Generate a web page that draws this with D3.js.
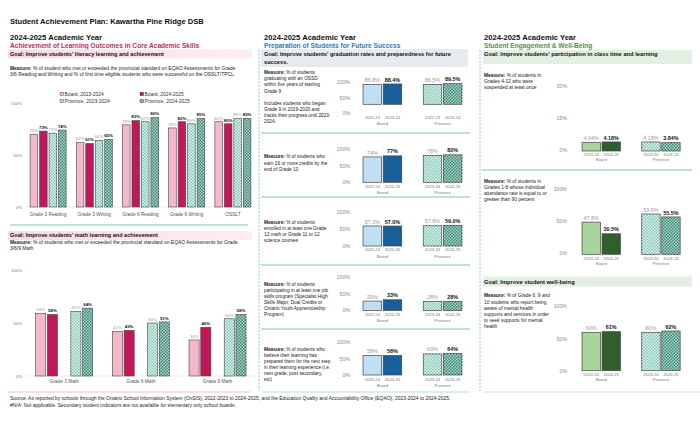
<!DOCTYPE html>
<html><head><meta charset="utf-8">
<script src="https://cdn.jsdelivr.net/npm/d3@7"></script>
<style>body{margin:0;background:#fff}svg{display:block;font-family:"Liberation Sans",Arial,sans-serif}</style>
</head><body><svg id="c" width="700" height="425"></svg>
<script>
// ---------- DATA ----------
const title = "Student Achievement Plan: Kawartha Pine Ridge DSB";
const yearHeader = "2024-2025 Academic Year";
const seriesKeys = ["Board, 2023-2024","Board, 2024-2025","Province, 2023-2024","Province, 2024-2025"];

const litCats = ["Grade 3 Reading","Grade 3 Writing","Grade 6 Reading","Grade 6 Writing","OSSLT"];
const litBoardPrev = [70,62,79,76,82];
const litBoardCurr = [73,61,83,82,80];
const litProvPrev  = [71,64,82,80,85];
const litProvCurr  = [74,65,86,85,85];

const mathCats = ["Grade 3 Math","Grade 6 Math","Grade 9 Math"];
const mathBoardPrev = [59,42,34];
const mathBoardCurr = [58,43,46];
const mathProvPrev  = [61,50,54];
const mathProvCurr  = [64,51,58];

const pctTicks = [0,50,100];
const groupNames = ["Board","Province"];

const midYears = [["2022-23","2023-24"],["2023-24","2024-25"],["2023-24","2024-25"],["2023-24","2024-25"],["2023-24","2024-25"]];
const midBoard = [[86.8,88.4],[74,77],[57.3,57.0],[29,33],[58,58]];
const midProv  = [[86.5,89.5],[78,80],[57.8,59.0],[28,28],[63,64]];
const midDecimals = [1,0,1,0,0];
const midMeasures = [
  ["Measure: % of students","graduating with an OSSD","within five years of starting","Grade 9","","Includes students who began","Grade 9 in 2019-2020 and","tracks their progress until 2023-","2024."],
  ["Measure: % of students who","earn 16 or more credits by the","end of Grade 10"],
  ["Measure: % of students","enrolled in at least one Grade","12 math or Grade 11 or 12","science courses"],
  ["Measure: % of students","participating in at least one job","skills program (Specialist High","Skills Major, Dual Credits or","Ontario Youth Apprenticeship","Program)"],
  ["Measure: % of students who","believe their learning has","prepared them for the next step","in their learning experience (i.e.","next grade, post secondary,","etc)"]
];

const rightYears = [["2023-24","2024-25"],["2023-24","2024-25"],["2023-24","2024-25"]];
const rightBoard = [[4.04,4.18],[47.8,30.5],[60,61]];
const rightProv  = [[4.18,3.84],[59.9,55.5],[60,62]];
const rightDecimals = [2,1,0];
const rightMax = [30,100,100];
const rightTicks = [[0,15,30],[0,50,100],[0,50,100]];
const rightMeasures = [
  ["Measure: % of students in","Grades 4-12 who were","suspended at least once"],
  ["Measure: % of students in","Grades 1-8 whose individual","attendance rate is equal to or","greater than 90 percent"],
  ["Measure: % of Grade 6, 9 and","10 students who report being","aware of mental health","supports and services in order","to seek supports for mental","health"]
];

const footer1 = "Source: As reported by schools through the Ontario School Information System (OnSIS), 2022-2023 to 2024-2025, and the Education Quality and Accountability Office (EQAO), 2023-2024 to 2024-2025.";
const footer2 = "#N/A: Not applicable. Secondary student indicators are not available for elementary only school boards.";

// ---------- DRAW ----------
const svg = d3.select("#c");
svg.append("rect").attr("width",700).attr("height",425).attr("fill","#fff");
const defs = svg.append("defs");
function pattern(id, base, dot){
  const p = defs.append("pattern").attr("id",id).attr("width",3).attr("height",3).attr("patternUnits","userSpaceOnUse");
  p.append("rect").attr("width",3).attr("height",3).attr("fill",base);
  p.append("rect").attr("width",1.5).attr("height",1.5).attr("fill",dot);
  p.append("rect").attr("x",1.5).attr("y",1.5).attr("width",1.5).attr("height",1.5).attr("fill",dot);
}
pattern("provL","#e6f5f1","#7cc6b5");
pattern("provD","#a9d8cc","#3f8574");
const lg = defs.append("linearGradient").attr("id","pinkG");
lg.append("stop").attr("offset","0").attr("stop-color","#f9d9e3");
lg.append("stop").attr("offset","1").attr("stop-color","#fdeef3");

const PINK_L="#f4b8cc", PINK_D="#c2185b", BLUE_L="#bfdff4", BLUE_D="#18609b", GREEN_L="#a9d59c", GREEN_D="#2f5f2f";
const STROKE="#444";

function txt(x,y,s,o={}){
  return svg.append("text").attr("x",x).attr("y",y).attr("dy","0.35em")
    .attr("font-size",o.size||5).attr("font-weight",o.weight||"normal")
    .attr("fill",o.fill||"#222").attr("text-anchor",o.anchor||"start").text(s);
}
function measure(x,y,lines,lh,size){
  lines.forEach((l,i)=>{
    const t = svg.append("text").attr("x",x).attr("y",y+i*lh).attr("dy","0.35em").attr("font-size",size).attr("fill","#222");
    if(i===0 && l.startsWith("Measure:")){
      t.append("tspan").attr("font-weight","bold").text("Measure:");
      t.append("tspan").text(l.slice(8));
    } else t.text(l);
  });
}

// Title
txt(10,21,title,{size:7.6,weight:"bold",fill:"#111"});

// ===== LEFT COLUMN =====
txt(10,37.5,yearHeader,{size:7.6,weight:"bold",fill:"#111"});
txt(10,46,"Achievement of Learning Outcomes in Core Academic Skills",{size:6.6,weight:"bold",fill:"#b5306a"});
svg.append("rect").attr("x",8).attr("y",49.3).attr("width",244).attr("height",9).attr("fill","url(#pinkG)");
txt(10,53.6,"Goal: Improve students' literacy learning and achievement",{size:5.55,weight:"bold",fill:"#111"});
measure(10,68.3,["Measure: % of student who met or exceeded the provincial standard on EQAO Assessments for Grade","3/6 Reading and Writing and % of first time eligible students who were successful on the OSSLT/TPCL."],6,4.95);

// legend
const legFill = [PINK_L,PINK_D,"url(#provL)","url(#provD)"];
const legPos = [[60,94],[140,94],[60,101],[140,101]];
seriesKeys.forEach((k,i)=>{
  svg.append("rect").attr("x",legPos[i][0]).attr("y",legPos[i][1]-1.8).attr("width",3.6).attr("height",3.6)
    .attr("fill",legFill[i]).attr("stroke",STROKE).attr("stroke-width",0.4);
  txt(legPos[i][0]+4.5,legPos[i][1],k,{size:4.9,fill:"#333"});
});

function groupedChart(cats, series, x0, x1, y, labelY, axisX){
  const g = svg.append("g");
  g.append("line").attr("x1",x0.range()[0]).attr("x2",x0.range()[1]).attr("y1",y(0)).attr("y2",y(0)).attr("stroke","#e2e2e2").attr("stroke-width",0.6);
  const ax = svg.append("g").attr("transform",`translate(${axisX},0)`)
    .call(d3.axisLeft(y).tickValues(pctTicks).tickFormat(d=>d+"%").tickSize(0).tickPadding(0));
  ax.select(".domain").remove();
  ax.selectAll("text").attr("font-size",4.2).attr("fill","#777").attr("font-family","Liberation Sans, Arial, sans-serif");
  cats.forEach((c,ci)=>{
    series.forEach(s=>{
      const v = s.values[ci];
      const bx = x0(c)+x1(s.key);
      g.append("rect").attr("x",bx).attr("y",y(v)).attr("width",x1.bandwidth()).attr("height",y(0)-y(v))
        .attr("fill",s.fill).attr("stroke",STROKE).attr("stroke-width",0.6);
      g.append("text").attr("x",bx+x1.bandwidth()/2).attr("y",y(v)-2.2).attr("text-anchor","middle")
        .attr("font-size",4.4).attr("font-weight",s.bold?"bold":"normal").attr("fill",s.bold?"#111":"#999").text(v+"%");
    });
    g.append("text").attr("x",x0(c)+x0.bandwidth()/2).attr("y",labelY).attr("dy","0.35em").attr("text-anchor","middle")
      .attr("font-size",4.8).attr("fill","#555").text(c);
  });
}

// literacy chart
{
  const x0 = d3.scaleBand().domain(litCats).range([25,256]).paddingInner(0.22).paddingOuter(0.11);
  const x1 = d3.scaleBand().domain(seriesKeys).range([0,x0.bandwidth()]).paddingInner(0.2);
  const y = d3.scaleLinear().domain([0,100]).range([207,103]);
  groupedChart(litCats,[
    {key:seriesKeys[0],values:litBoardPrev,fill:PINK_L,bold:false},
    {key:seriesKeys[1],values:litBoardCurr,fill:PINK_D,bold:true},
    {key:seriesKeys[2],values:litProvPrev,fill:"url(#provL)",bold:false},
    {key:seriesKeys[3],values:litProvCurr,fill:"url(#provD)",bold:true}
  ],x0,x1,y,214,22);
}
svg.append("line").attr("x1",10).attr("x2",248).attr("y1",225).attr("y2",225).attr("stroke","#a6d8cc").attr("stroke-width",1.4);
svg.append("rect").attr("x",8).attr("y",231).attr("width",244).attr("height",9).attr("fill","url(#pinkG)");
txt(10,235.5,"Goal: Improve students' math learning and achievement",{size:5.55,weight:"bold",fill:"#111"});
measure(10,242,["Measure: % of students who met or exceeded the provincial standard on EQAO Assessments for Grade","3/6/9 Math"],6.3,4.95);

// math chart
{
  const slots = ["b0","b1","gap","p0","p1"];
  const x0 = d3.scaleBand().domain(mathCats).range([25.7,256]).paddingInner(0.257).paddingOuter(0.13);
  const x1 = d3.scaleBand().domain(slots).range([0,x0.bandwidth()]).paddingInner(0.14);
  const y = d3.scaleLinear().domain([0,100]).range([376,270]);
  groupedChart(mathCats,[
    {key:"b0",values:mathBoardPrev,fill:PINK_L,bold:false},
    {key:"b1",values:mathBoardCurr,fill:PINK_D,bold:true},
    {key:"p0",values:mathProvPrev,fill:"url(#provL)",bold:false},
    {key:"p1",values:mathProvCurr,fill:"url(#provD)",bold:true}
  ],x0,x1,y,381.7,22);
}

// ===== small two-group charts =====
function pairChart(o){
  const xg = d3.scaleBand().domain(groupNames).range(o.xRange).paddingInner(0.357).paddingOuter(0.18);
  const xs = d3.scaleBand().domain([0,1]).range([0,xg.bandwidth()]).paddingInner(0.08);
  const ya = d3.scaleLinear().domain([0,o.max]).range([o.aBot,o.aTop]);
  const yb = d3.scaleLinear().domain([0,o.max]).range([o.bBot,o.bTop]);
  const ax = svg.append("g").attr("transform",`translate(${o.axisX},0)`)
    .call(d3.axisLeft(ya).tickValues(o.ticks).tickFormat(d=>d+"%").tickSize(0).tickPadding(0));
  ax.select(".domain").remove();
  ax.selectAll("text").attr("font-size",5.2).attr("fill","#888").attr("font-family","Liberation Sans, Arial, sans-serif");
  const fills = [[o.cL,o.cD],["url(#provL)","url(#provD)"]];
  [o.board,o.prov].forEach((vals,gi)=>{
    const gname = groupNames[gi];
    vals.forEach((v,i)=>{
      const bx = xg(gname)+xs(i);
      svg.append("rect").attr("x",bx).attr("y",yb(v)).attr("width",xs.bandwidth()).attr("height",yb(0)-yb(v))
        .attr("fill",fills[gi][i]).attr("stroke",STROKE).attr("stroke-width",0.7);
      svg.append("text").attr("x",bx+xs.bandwidth()/2).attr("y",yb(v)-2.4).attr("text-anchor","middle")
        .attr("font-size",5.4).attr("font-weight",i?"bold":"normal").attr("fill",i?"#111":"#999")
        .text(v.toFixed(o.dec)+"%");
      svg.append("text").attr("x",bx+xs.bandwidth()/2).attr("y",o.xl).attr("dy","0.35em").attr("text-anchor","middle")
        .attr("font-size",4.2).attr("fill","#777").text(o.years[i]);
    });
    svg.append("text").attr("x",xg(gname)+xg.bandwidth()/2).attr("y",o.gl).attr("dy","0.35em").attr("text-anchor","middle")
      .attr("font-size",4.2).attr("fill","#777").text(gname);
  });
}

// ===== MIDDLE COLUMN =====
txt(264,37.7,yearHeader,{size:7.6,weight:"bold",fill:"#111"});
txt(264,46,"Preparation of Students for Future Success",{size:6.6,weight:"bold",fill:"#2e7dbf"});
svg.append("rect").attr("x",261).attr("y",49).attr("width",207).attr("height",18).attr("fill","#e5ebf1");
txt(264,54.3,"Goal: Improve students' graduation rates and preparedness for future",{size:5.65,weight:"bold",fill:"#111"});
txt(264,62.5,"success.",{size:5.65,weight:"bold",fill:"#111"});

const midGeom = [
  {aTop:81.7,aBot:113.3,bTop:81.3,bBot:104.3,xl:118,gl:124,ty:72.5},
  {aTop:149,aBot:182.3,bTop:148,bBot:182.3,xl:186.7,gl:192.7,ty:156.7},
  {aTop:212.3,aBot:245.7,bTop:211,bBot:246,xl:250,gl:256.7,ty:222.3},
  {aTop:276.7,aBot:310,bTop:278,bBot:310.5,xl:315,gl:320.5,ty:284},
  {aTop:341.7,aBot:375,bTop:341.5,bBot:375,xl:380,gl:386,ty:349}
];
midGeom.forEach((g,i)=>{
  measure(264,g.ty,midMeasures[i],6.15,4.75);
  pairChart({xRange:[352.2,472.8],axisX:350,aTop:g.aTop,aBot:g.aBot,bTop:g.bTop,bBot:g.bBot,max:100,ticks:pctTicks,
    board:midBoard[i],prov:midProv[i],years:midYears[i],dec:midDecimals[i],cL:BLUE_L,cD:BLUE_D,xl:g.xl,gl:g.gl});
});
[133,197,265,329].forEach(yy=>{
  svg.append("line").attr("x1",261).attr("x2",470).attr("y1",yy).attr("y2",yy).attr("stroke","#a6d8cc").attr("stroke-width",1.4);
});

// ===== RIGHT COLUMN =====
txt(484,37.7,yearHeader,{size:7.6,weight:"bold",fill:"#111"});
txt(484,46,"Student Engagement & Well-Being",{size:6.6,weight:"bold",fill:"#5b8d4e"});
svg.append("rect").attr("x",483).attr("y",50).attr("width",209).attr("height",14).attr("fill","#e3efe1");
txt(484,54.3,"Goal: Improve students' participation in class time and learning",{size:5.75,weight:"bold",fill:"#111"});
svg.append("rect").attr("x",483).attr("y",276.5).attr("width",209).attr("height",10).attr("fill","#e3efe1");
txt(484,281.7,"Goal: Improve student well-being",{size:5.75,weight:"bold",fill:"#111"});
svg.append("line").attr("x1",482).attr("x2",692).attr("y1",170).attr("y2",170).attr("stroke","#a6d8cc").attr("stroke-width",1.4);

const rightGeom = [
  {aTop:86,aBot:150.3,bTop:86,bBot:151,xl:155,gl:160,ty:75},
  {aTop:189,aBot:253.3,bTop:187,bBot:254.3,xl:258.3,gl:264,ty:181},
  {aTop:306,aBot:370.7,bTop:306.7,bBot:370.7,xl:375,gl:380,ty:295.7}
];
rightGeom.forEach((g,i)=>{
  measure(484,g.ty,rightMeasures[i],6.2,4.85);
  pairChart({xRange:[571.3,690.9],axisX:567,aTop:g.aTop,aBot:g.aBot,bTop:g.bTop,bBot:g.bBot,max:rightMax[i],ticks:rightTicks[i],
    board:rightBoard[i],prov:rightProv[i],years:rightYears[i],dec:rightDecimals[i],cL:GREEN_L,cD:GREEN_D,xl:g.xl,gl:g.gl});
});

// column separators
[259,480].forEach(xx=>{
  svg.append("line").attr("x1",xx).attr("x2",xx).attr("y1",50).attr("y2",391).attr("stroke","#7cc6b6").attr("stroke-width",0.9).attr("stroke-dasharray","2,1.5");
});
svg.append("line").attr("x1",8).attr("x2",250).attr("y1",392).attr("y2",392).attr("stroke","#f6d3de").attr("stroke-width",1.4);
svg.append("line").attr("x1",262).attr("x2",470).attr("y1",392).attr("y2",392).attr("stroke","#cfe9e2").attr("stroke-width",1.4);
svg.append("line").attr("x1",484).attr("x2",700).attr("y1",392).attr("y2",392).attr("stroke","#e6e6e6").attr("stroke-width",1.4);

// footer
txt(10,398.3,footer1,{size:4.95,fill:"#222"});
txt(10,404.8,footer2,{size:4.95,fill:"#222"});
</script></body></html>
